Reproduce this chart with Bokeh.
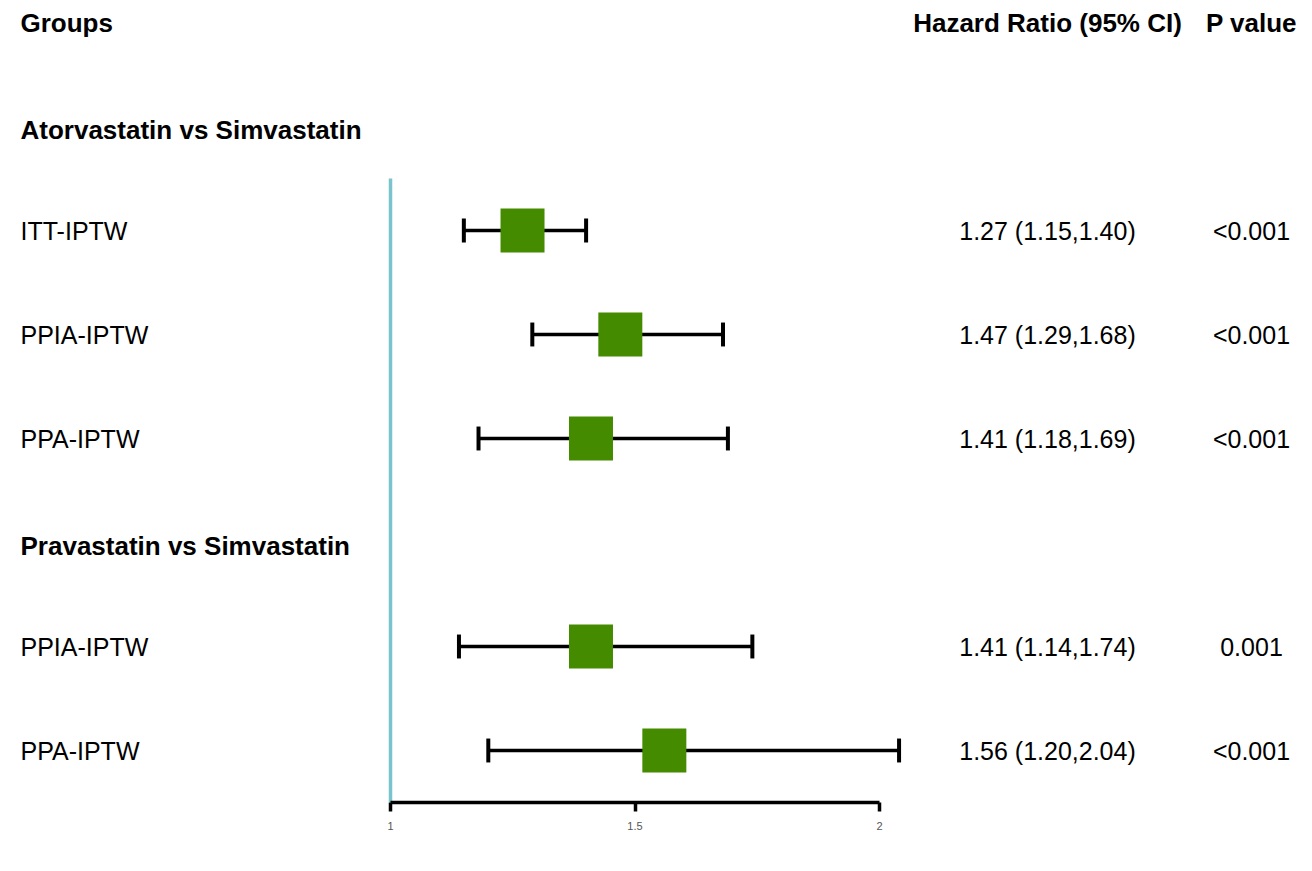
from bokeh.plotting import figure
from bokeh.models import Range1d, LinearAxis, FixedTicker, ColumnDataSource
from bokeh.core.properties import value
from bokeh.embed import file_html
from bokeh.resources import INLINE

# ---------------- data ----------------
headers = ["Groups", "Hazard Ratio (95% CI)", "P value"]
group_names = ["Atorvastatin vs Simvastatin", "Pravastatin vs Simvastatin"]
methods = ["ITT-IPTW", "PPIA-IPTW", "PPA-IPTW", "PPIA-IPTW", "PPA-IPTW"]
group_idx = [0, 0, 0, 1, 1]
hr = [1.27, 1.47, 1.41, 1.41, 1.56]
ci_low = [1.15, 1.29, 1.18, 1.14, 1.20]
ci_high = [1.40, 1.68, 1.69, 1.74, 2.04]
p_values = ["<0.001", "<0.001", "<0.001", "0.001", "<0.001"]
x_ticks = [1, 1.5, 2]
tick_labels = ["1", "1.5", "2"]

# ---------------- layout ----------------
W, H = 1296, 855
PX0, PX_PER_UNIT = 390.0, 489.0       # pixel of x=1, px per unit
ROW0, ROW_H = 22.0, 104.0             # pixel of row 0 centre, row height
FRAME_BOTTOM = 802.0

def px2x(px):
    return 1 + (px - PX0) / PX_PER_UNIT

def py2row(py):
    return (py - ROW0) / ROW_H

rows = []
titles_rows = []
r = 1
last_g = None
for g in group_idx:
    if g != last_g:
        titles_rows.append(r)
        r += 1
        last_g = g
    rows.append(r)
    r += 1
n_rows = r
bottom_row = n_rows - 0.5

p = figure(width=W, height=H, output_backend="svg", toolbar_location=None,
           x_range=Range1d(px2x(0), px2x(W)),
           y_range=Range1d(py2row(FRAME_BOTTOM), py2row(0)),
           min_border_left=0, min_border_right=0, min_border_top=0,
           min_border_bottom=int(H - FRAME_BOTTOM), x_axis_location=None,
           y_axis_location=None)
p.grid.visible = False
p.outline_line_color = None
p.background_fill_color = "white"
p.border_fill_color = "white"

FONT = value("Liberation Sans")

# x axis
ax = LinearAxis(ticker=FixedTicker(ticks=x_ticks), bounds=(min(x_ticks), max(x_ticks)))
ax.major_label_overrides = {t: l for t, l in zip(x_ticks, tick_labels)}
ax.axis_line_width = 3.5
ax.axis_line_color = "black"
ax.major_tick_line_width = 3.5
ax.major_tick_in = 0
ax.major_tick_out = 9
ax.minor_tick_line_color = None
ax.major_label_text_font = "Liberation Sans"
ax.major_label_text_font_size = "11px"
ax.major_label_text_color = "#555555"
ax.major_label_standoff = 10
p.add_layout(ax, "below")

# reference line at HR = 1
p.segment(x0=[1], y0=[titles_rows[0] + 0.5], x1=[1], y1=[bottom_row],
          line_color="#7AC5CD", line_width=3.5)

src = ColumnDataSource(dict(
    y=rows, hr=hr, lo=ci_low, hi=ci_high, method=methods,
    hrtext=[f"{a:.2f} ({b:.2f},{c:.2f})" for a, b, c in zip(hr, ci_low, ci_high)],
    pv=p_values,
    ylo=[y - 0.115 for y in rows], yhi=[y + 0.115 for y in rows],
))

p.segment(x0="lo", y0="y", x1="hi", y1="y", source=src, line_color="black", line_width=3.5)
p.segment(x0="lo", y0="ylo", x1="lo", y1="yhi", source=src, line_color="black", line_width=4)
p.segment(x0="hi", y0="ylo", x1="hi", y1="yhi", source=src, line_color="black", line_width=4)
p.rect(x="hr", y="y", width=44, height=44, width_units="screen", height_units="screen",
       source=src, fill_color="#458B00", line_color=None)

# text columns
x_left = px2x(20)
x_hr = px2x(1047)
x_p = px2x(1251)

p.text(x=[x_left], y=[0], text=[headers[0]], text_font=FONT, text_font_style="bold",
       text_font_size="26px", text_baseline="middle", text_align="left", text_color="black")
p.text(x=[x_hr, x_p], y=[0, 0], text=headers[1:], text_font=FONT, text_font_style="bold",
       text_font_size="26px", text_baseline="middle", text_align="center", text_color="black")
p.text(x=[x_left] * len(group_names), y=[t + 0.035 for t in titles_rows], text=group_names,
       text_font=FONT, text_font_style="bold", text_font_size="26px",
       text_baseline="middle", text_align="left", text_color="black")

p.text(x=x_left, y="y", text="method", source=src, text_font=FONT, text_font_size="25px",
       text_baseline="middle", text_align="left", text_color="black")
p.text(x=x_hr, y="y", text="hrtext", source=src, text_font=FONT, text_font_size="25px",
       text_baseline="middle", text_align="center", text_color="black")
p.text(x=x_p, y="y", text="pv", source=src, text_font=FONT, text_font_size="25px",
       text_baseline="middle", text_align="center", text_color="black")

open("out.html", "w").write(file_html(p, INLINE))
